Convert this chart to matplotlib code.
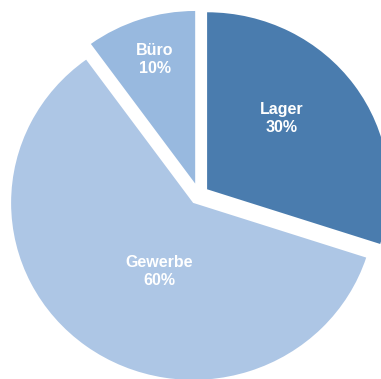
import matplotlib
matplotlib.use("Agg")
import matplotlib.pyplot as plt

categories = ["Lager", "Gewerbe", "Büro"]
values = [30, 60, 10]
colors = ["#4a7cae", "#adc6e5", "#98b9df"]
explode = [0.055, 0.055, 0.068]
radii = [1.0, 1.0, 0.975]
label_pos = [(0.456, 0.435), (-0.22, -0.435), (-0.242, 0.768)]

fig = plt.figure(figsize=(3.81, 3.79), dpi=100)
ax = fig.add_axes([0, 0, 1, 1])
wedges, _ = ax.pie(values, colors=colors, explode=explode, startangle=90,
                   counterclock=False, radius=1.0,
                   wedgeprops=dict(linewidth=0))
for w, r in zip(wedges, radii):
    w.set_radius(r)
ax.set_aspect("auto")
ax.set_xlim(-199 / 182, (381 - 199) / 182)
ax.set_ylim((195 - 379) / 177, 195 / 177)
ax.axis("off")

for cat, val, (x, y) in zip(categories, values, label_pos):
    ax.text(x, y, f"{cat}\n{val}%", ha="center", va="center", color="white",
            fontsize=11.5, fontweight="bold", family="Liberation Sans",
            linespacing=1.25)

fig.savefig("out.png", dpi=100)
